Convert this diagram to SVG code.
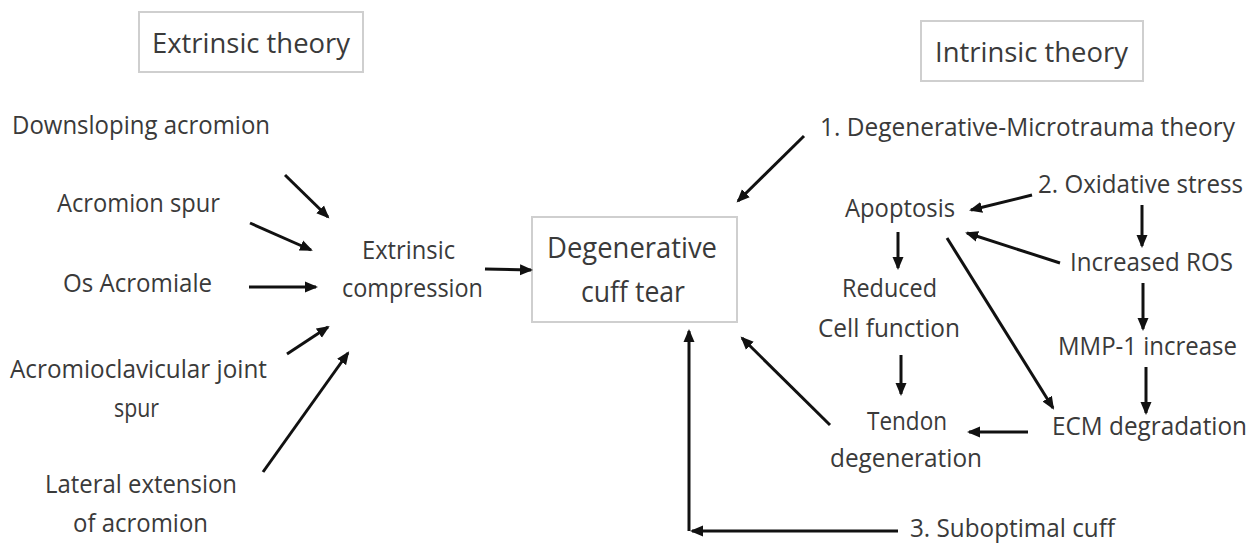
<svg xmlns="http://www.w3.org/2000/svg" width="1257" height="545" viewBox="0 0 1257 545">
<defs>
<marker id="ah" markerUnits="userSpaceOnUse" markerWidth="14" markerHeight="12" refX="11" refY="6" orient="auto">
<path d="M0,0.5 L13,6 L0,11.5 z" fill="#111"/>
</marker>
<style>
text{font-family:"Open Sans","Liberation Sans",sans-serif;fill:#3a3a3a;font-size:25px}
.big{font-size:30px}
.hd{font-size:27px}
.box{fill:#fff;stroke:#cfcfcf;stroke-width:2}
.c line{stroke:#111;stroke-width:3;fill:none;marker-end:url(#ah)}
</style>
</defs>
<rect width="1257" height="545" fill="#fff"/>
<g id="extrinsic-theory"><rect class="box" x="139" y="12" width="224" height="60"/><text class="hd" x="152" y="53" textLength="198" lengthAdjust="spacingAndGlyphs">Extrinsic theory</text></g>
<g id="intrinsic-theory"><rect class="box" x="921" y="21" width="222" height="60"/><text class="hd" x="935" y="62" textLength="193" lengthAdjust="spacingAndGlyphs">Intrinsic theory</text></g>
<g id="cuff-tear"><rect class="box" x="532" y="217" width="205" height="105"/><text class="big" x="547" y="258" textLength="170" lengthAdjust="spacingAndGlyphs">Degenerative</text><text class="big" x="581" y="302" textLength="104" lengthAdjust="spacingAndGlyphs">cuff tear</text></g>
<g id="downsloping"><text x="12" y="134" textLength="258" lengthAdjust="spacingAndGlyphs">Downsloping acromion</text></g>
<g id="acromion-spur"><text x="57" y="212" textLength="163" lengthAdjust="spacingAndGlyphs">Acromion spur</text></g>
<g id="os-acromiale"><text x="63" y="292" textLength="149" lengthAdjust="spacingAndGlyphs">Os Acromiale</text></g>
<g id="ac-joint"><text x="10" y="378" textLength="257" lengthAdjust="spacingAndGlyphs">Acromioclavicular joint</text><text x="114" y="417" textLength="45" lengthAdjust="spacingAndGlyphs">spur</text></g>
<g id="lateral"><text x="45" y="493" textLength="192" lengthAdjust="spacingAndGlyphs">Lateral extension</text><text x="73" y="532" textLength="135" lengthAdjust="spacingAndGlyphs">of acromion</text></g>
<g id="extrinsic-compression"><text x="362" y="259" textLength="93" lengthAdjust="spacingAndGlyphs">Extrinsic</text><text x="342" y="297" textLength="141" lengthAdjust="spacingAndGlyphs">compression</text></g>
<g id="microtrauma"><text x="820" y="136" textLength="415" lengthAdjust="spacingAndGlyphs">1. Degenerative-Microtrauma theory</text></g>
<g id="oxidative"><text x="1038" y="193" textLength="205" lengthAdjust="spacingAndGlyphs">2. Oxidative stress</text></g>
<g id="apoptosis"><text x="845" y="217" textLength="110" lengthAdjust="spacingAndGlyphs">Apoptosis</text></g>
<g id="ros"><text x="1070" y="271" textLength="163" lengthAdjust="spacingAndGlyphs">Increased ROS</text></g>
<g id="reduced"><text x="842" y="297" textLength="95" lengthAdjust="spacingAndGlyphs">Reduced</text><text x="818" y="337" textLength="142" lengthAdjust="spacingAndGlyphs">Cell function</text></g>
<g id="mmp1"><text x="1058" y="355" textLength="179" lengthAdjust="spacingAndGlyphs">MMP-1 increase</text></g>
<g id="tendon"><text x="867" y="430" textLength="80" lengthAdjust="spacingAndGlyphs">Tendon</text><text x="830" y="467" textLength="152" lengthAdjust="spacingAndGlyphs">degeneration</text></g>
<g id="ecm"><text x="1052" y="435" textLength="195" lengthAdjust="spacingAndGlyphs">ECM degradation</text></g>
<g id="suboptimal"><text x="910" y="537" textLength="205" lengthAdjust="spacingAndGlyphs">3. Suboptimal cuff</text></g>
<g id="connectors" class="c">
<line x1="285" y1="175" x2="328" y2="217"/>
<line x1="250" y1="223" x2="311" y2="250"/>
<line x1="249" y1="287" x2="316" y2="287"/>
<line x1="287" y1="354" x2="328" y2="327"/>
<line x1="263" y1="472" x2="348" y2="353"/>
<line x1="485" y1="269" x2="531" y2="270"/>
<line x1="804" y1="136" x2="738" y2="201"/>
<line x1="1032" y1="195" x2="971" y2="210"/>
<line x1="1142" y1="205" x2="1142" y2="246"/>
<line x1="1060" y1="263" x2="967" y2="233"/>
<line x1="898" y1="232" x2="898" y2="268"/>
<line x1="947" y1="238" x2="1053" y2="408"/>
<line x1="901" y1="355" x2="901" y2="394"/>
<line x1="1143" y1="283" x2="1143" y2="329"/>
<line x1="1146" y1="367" x2="1146" y2="413"/>
<line x1="1028" y1="432" x2="969" y2="432"/>
<line x1="830" y1="425" x2="742" y2="338"/>
<line x1="898" y1="531" x2="692" y2="531"/>
<line x1="689" y1="531" x2="689" y2="331"/>
</g>
</svg>
